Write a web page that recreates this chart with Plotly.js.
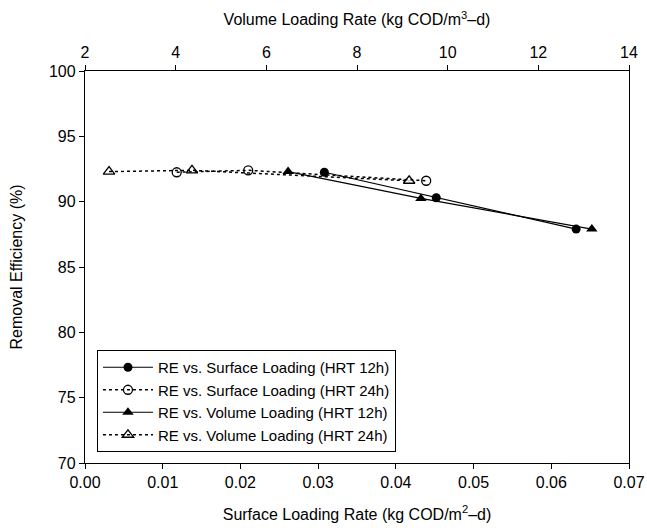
<!DOCTYPE html>
<html>
<head>
<meta charset="utf-8">
<script src="https://cdn.plot.ly/plotly-3.0.1.min.js"></script>
<style>html,body{margin:0;padding:0;background:#fff;}#chart{width:647px;height:530px;}</style>
</head>
<body>
<div id="chart"></div>
<script>
// Surface loading (kg COD/m2-d) vs removal efficiency
const surf12X = [0.0308, 0.0452, 0.0632];
const surf12Y = [92.25, 90.3, 87.9];
const surf24X = [0.0118, 0.0210, 0.0439];
const surf24Y = [92.25, 92.4, 91.6];
// Volume loading (kg COD/m3-d) vs removal efficiency
const vol12X = [6.48, 9.41, 13.18];
const vol12Y = [92.3, 90.25, 87.9];
const vol24X = [2.53, 4.36, 9.15];
const vol24Y = [92.3, 92.4, 91.6];

const names = [
  'RE vs. Surface Loading (HRT 12h)',
  'RE vs. Surface Loading (HRT 24h)',
  'RE vs. Volume Loading (HRT 12h)',
  'RE vs. Volume Loading (HRT 24h)'
];

const font = {family: 'Liberation Sans, Arial, sans-serif', size: 16, color: '#000'};

const traces = [
  {x: surf12X, y: surf12Y, name: names[0], mode: 'lines+markers', xaxis: 'x', yaxis: 'y',
   line: {color: '#000', width: 1.2, dash: 'solid'},
   marker: {symbol: 'circle', size: 9, color: '#000'}},
  {x: surf24X, y: surf24Y, name: names[1], mode: 'lines+markers', xaxis: 'x', yaxis: 'y',
   line: {color: '#000', width: 1.5, dash: 'dot'},
   marker: {symbol: 'circle-open', size: 9, color: '#000', line: {width: 1.3, color: '#000'}}},
  {x: vol12X, y: vol12Y, name: names[2], mode: 'lines+markers', xaxis: 'x2', yaxis: 'y',
   line: {color: '#000', width: 1.2, dash: 'solid'},
   marker: {symbol: 'triangle-up', size: 10, color: '#000'}},
  {x: vol24X, y: vol24Y, name: names[3], mode: 'lines+markers', xaxis: 'x2', yaxis: 'y',
   line: {color: '#000', width: 1.5, dash: 'dot'},
   marker: {symbol: 'triangle-up-open', size: 10, color: '#000', line: {width: 1.3, color: '#000'}}}
];

const axisCommon = {
  showgrid: false, zeroline: false, showline: true, linecolor: '#000', linewidth: 1.2,
  ticks: 'outside', ticklen: 5, tickwidth: 1, tickcolor: '#000', tickfont: font
};

const layout = {
  width: 647, height: 530,
  margin: {l: 85, r: 18, t: 71, b: 67},
  paper_bgcolor: '#fff', plot_bgcolor: '#fff',
  font: font,
  showlegend: true,
  legend: {
    x: 0.022, y: 0.028, xanchor: 'left', yanchor: 'bottom',
    bordercolor: '#000', borderwidth: 1, bgcolor: '#fff',
    font: {family: font.family, size: 15, color: '#000'},
    tracegroupgap: 0, itemwidth: 50
  },
  xaxis: Object.assign({}, axisCommon, {
    range: [0, 0.07], tickvals: [0, 0.01, 0.02, 0.03, 0.04, 0.05, 0.06, 0.07],
    tickformat: '.2f', side: 'bottom',
    title: {text: 'Surface Loading Rate (kg COD/m<sup>2</sup>–d)', font: font, standoff: 18}
  }),
  xaxis2: Object.assign({}, axisCommon, {
    range: [2, 14], tickvals: [2, 4, 6, 8, 10, 12, 14],
    overlaying: 'x', side: 'top', anchor: 'y',
    title: {text: 'Volume Loading Rate (kg COD/m<sup>3</sup>–d)', font: font, standoff: 14}
  }),
  yaxis: Object.assign({}, axisCommon, {
    range: [70, 100], tickvals: [70, 75, 80, 85, 90, 95, 100], mirror: true,
    title: {text: 'Removal Efficiency (%)', font: font, standoff: 22}
  })
};

Plotly.newPlot('chart', traces, layout, {displayModeBar: false, staticPlot: true});
</script>
</body>
</html>
